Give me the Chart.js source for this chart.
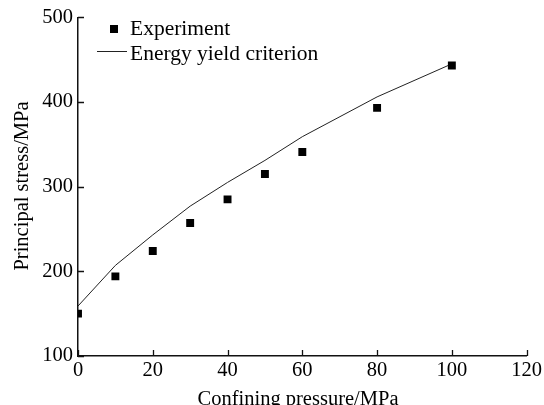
<!DOCTYPE html>
<html>
<head>
<meta charset="utf-8">
<script src="https://cdn.jsdelivr.net/npm/chart.js@4/dist/chart.umd.min.js"></script>
<style>
html,body{margin:0;padding:0;background:#fff;}
#wrap{width:544px;height:405px;}
</style>
</head>
<body>
<div id="wrap"><canvas id="c" width="544" height="405"></canvas></div>
<script>
const expX = [0, 10, 20, 30, 40, 50, 60, 80, 100];
const expY = [150, 194, 224, 257, 285, 315, 341, 393, 443];
const critX = [0, 10, 20, 30, 40, 50, 60, 80, 100];
const critY = [159, 207, 243, 277, 305, 331, 359, 406, 445];
const xTicks = [0, 20, 40, 60, 80, 100, 120];
const yTicks = [100, 200, 300, 400, 500];
const seriesNames = ['Experiment', 'Energy yield criterion'];
const xTitle = 'Confining pressure/MPa';
const yTitle = 'Principal stress/MPa';

const FONT = '"Liberation Serif", "DejaVu Serif", serif';

const decor = {
  id: 'decor',
  afterDraw(chart) {
    const ctx = chart.ctx;
    const xs = chart.scales.x, ys = chart.scales.y;
    const a = chart.chartArea;
    ctx.save();
    ctx.strokeStyle = '#111';
    ctx.lineWidth = 1.3;
    ctx.beginPath();
    yTicks.forEach(v => {
      const y = Math.round(ys.getPixelForValue(v)) + 0.5;
      ctx.moveTo(a.left, y); ctx.lineTo(a.left + 6, y);
    });
    xTicks.forEach(v => {
      const x = Math.round(xs.getPixelForValue(v)) + 0.5;
      ctx.moveTo(x, a.bottom); ctx.lineTo(x, a.bottom - 6);
    });
    ctx.stroke();

    // axis titles
    ctx.fillStyle = '#000';
    ctx.font = '20.5px ' + FONT;
    ctx.textAlign = 'center';
    ctx.textBaseline = 'alphabetic';
    ctx.fillText(xTitle, 298, 405);
    ctx.save();
    ctx.translate(28, 186);
    ctx.rotate(-Math.PI / 2);
    ctx.fillText(yTitle, 0, 0);
    ctx.restore();

    // legend
    ctx.fillStyle = '#000';
    ctx.fillRect(110, 25, 8, 8);
    ctx.strokeStyle = '#222';
    ctx.lineWidth = 1;
    ctx.beginPath();
    ctx.moveTo(97, 51.5); ctx.lineTo(127, 51.5);
    ctx.stroke();
    ctx.font = '21.5px ' + FONT;
    ctx.textAlign = 'left';
    ctx.textBaseline = 'middle';
    ctx.fillText(seriesNames[0], 130, 29);
    ctx.fillText(seriesNames[1], 130, 54);
    ctx.restore();
  }
};

new Chart(document.getElementById('c'), {
  type: 'scatter',
  data: {
    datasets: [
      {
        label: seriesNames[0],
        data: expX.map((x, i) => ({x, y: expY[i]})),
        pointStyle: 'rect',
        pointRadius: 5.6,
        pointBackgroundColor: '#000',
        pointBorderWidth: 0,
        showLine: false
      },
      {
        label: seriesNames[1],
        data: critX.map((x, i) => ({x, y: critY[i]})),
        showLine: true,
        borderColor: '#222',
        borderWidth: 1,
        pointRadius: 0,
        tension: 0
      }
    ]
  },
  options: {
    responsive: false,
    animation: false,
    devicePixelRatio: 1,
    layout: { padding: { top: 17, right: 16, left: 0, bottom: 0 } },
    plugins: { legend: { display: false }, tooltip: { enabled: false } },
    scales: {
      x: {
        type: 'linear', min: 0, max: 120,
        afterBuildTicks: s => { s.ticks = xTicks.map(v => ({value: v})); },
        afterFit: s => { s.height = 49; },
        grid: { display: true, drawOnChartArea: false, drawTicks: false },
        border: { display: true, color: '#111', width: 1.5 },
        ticks: { color: '#000', font: { family: FONT, size: 20.5 }, padding: 2, maxRotation: 0 }
      },
      y: {
        type: 'linear', min: 100, max: 500,
        afterBuildTicks: s => { s.ticks = yTicks.map(v => ({value: v})); },
        afterFit: s => { s.width = 78; },
        grid: { display: true, drawOnChartArea: false, drawTicks: false },
        border: { display: true, color: '#111', width: 1.5 },
        ticks: { color: '#000', font: { family: FONT, size: 20.5 }, padding: 5 }
      }
    }
  },
  plugins: [decor]
});
</script>
</body>
</html>
